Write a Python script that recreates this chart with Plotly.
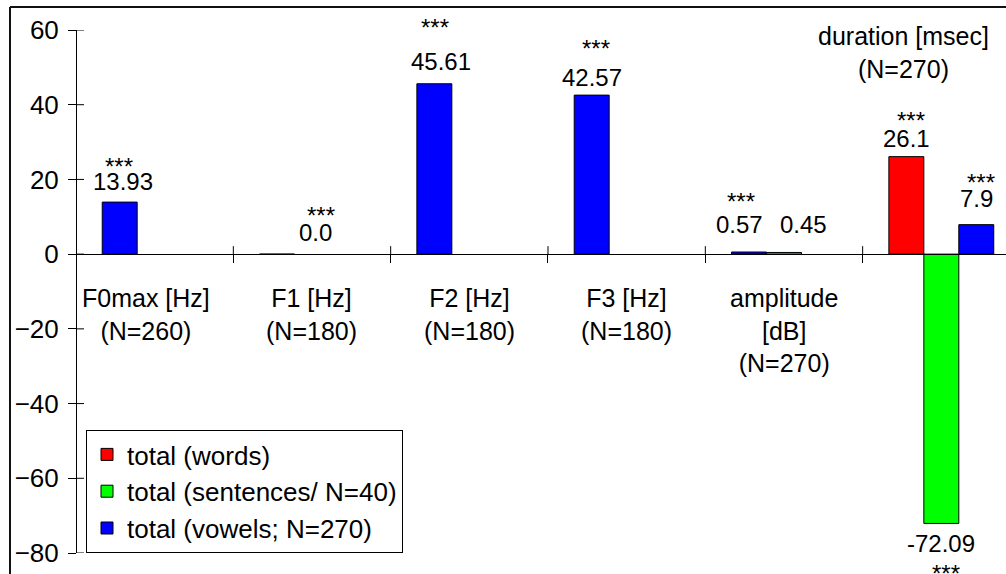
import plotly.graph_objects as go

# ---------------- data ----------------
categories = ["F0max [Hz]<br>(N=260)", "F1 [Hz]<br>(N=180)", "F2 [Hz]<br>(N=180)",
              "F3 [Hz]<br>(N=180)", "amplitude<br>[dB]<br>(N=270)", "duration [msec]<br>(N=270)"]
words = [None, None, None, None, None, 26.1]
sentences = [None, None, None, None, 0.45, -72.09]
vowels = [13.93, 0.0, 45.61, 42.57, 0.57, 7.9]
stars_words = [None, None, None, None, None, "***"]
stars_sentences = [None, None, None, None, None, "***"]
stars_vowels = ["***", "***", "***", "***", "***", "***"]
y_ticks = [-80, -60, -40, -20, 0, 20, 40, 60]

# ---------------- style / layout geometry ----------------
FONT = "Liberation Sans, Arial, sans-serif"
W, H = 1006, 574
ML, MT = 6, 3                       # paper origin (frame drawn inside it)
FRAME_X, FRAME_Y = 10, 7            # outer chart frame (left / top edges) in pixels
PL, PR, PT, PB = 76, 1006, 30, 553  # plot area in pixels (right side runs off the image)
GROUP_PX = 157.33
BARGAP = 1 / 3
SLOT = (1 - BARGAP) / 3
slot_offset = {"a": -SLOT, "b": 0.0, "c": SLOT}
# label pixel offsets: (value dx, value dy, stars dx, stars dy), keyed by (series, index)
label_style = {
    ("v", 0): (3, 21, -1, 40),
    ("v", 1): (38, 22, 44, 43),
    ("v", 2): (7, 22, 1, 60),
    ("v", 3): (0, 18, 4, 51),
    ("v", 4): (-10, 28, -8, 55),
    ("s", 4): (20, 28, 0, 0),
    ("w", 5): (0, 18, 5, 40),
    ("s", 5): (0, -20, 5, -46),
    ("v", 5): (0, 26, 5, 46),
}

pw, ph = W - ML, H - MT


def px_x(p):
    return (p - ML) / pw


def px_y(p):
    return (H - p) / ph


n = len(categories)
idx = list(range(n))
vowels_a = [v if words[i] is None else None for i, v in enumerate(vowels)]
vowels_c = [v if words[i] is not None else None for i, v in enumerate(vowels)]

fig = go.Figure()
line = dict(color="black", width=1)
fig.add_bar(x=idx, y=words, name="total (words)", marker=dict(color="#FF0000", line=line),
            offsetgroup="a", legendgroup="w")
fig.add_bar(x=idx, y=sentences, name="total (sentences/ N=40)", marker=dict(color="#00FF00", line=line),
            offsetgroup="b", legendgroup="s")
fig.add_bar(x=idx, y=vowels_a, name="total (vowels; N=270)", marker=dict(color="#0000FF", line=line),
            offsetgroup="a", legendgroup="v", showlegend=False)
fig.add_bar(x=idx, y=vowels_c, name="total (vowels; N=270)", marker=dict(color="#0000FF", line=line),
            offsetgroup="c", legendgroup="v")

annotations = []
series = [("w", words, stars_words, "a"), ("s", sentences, stars_sentences, "b"),
          ("v", vowels, stars_vowels, None)]
for key, vals, stars, grp in series:
    for i, v in enumerate(vals):
        if v is None:
            continue
        g = grp if grp else ("c" if words[i] is not None else "a")
        x = i + slot_offset[g]
        vdx, vdy, sdx, sdy = label_style.get((key, i), (0, 20, 0, 40))
        annotations.append(dict(x=x, y=v, text=str(v), showarrow=False, xshift=vdx, yshift=vdy,
                                yanchor="middle", font=dict(size=24, color="black", family=FONT)))
        if stars[i]:
            annotations.append(dict(x=x, y=v, text=stars[i], showarrow=False, xshift=sdx, yshift=sdy - 4,
                                    yanchor="middle", font=dict(size=24, color="black", family=FONT)))

YMIN, YMAX = y_ticks[0], y_ticks[-1]

# category labels
for i, lab in enumerate(categories):
    vals = [s[i] for s in (words, sentences, vowels) if s[i] is not None]
    if min(vals) < 0:
        annotations.append(dict(x=i, y=YMAX, text=lab, showarrow=False, xshift=-38,
                                yshift=10, yanchor="top", font=dict(size=25, color="black", family=FONT)))
    else:
        annotations.append(dict(x=i, y=0, text=lab, showarrow=False, xshift=(-9 if i == 0 else 0),
                                yshift=-28, yanchor="top", font=dict(size=25, color="black", family=FONT)))

xdom = [px_x(PL), 1]
ydom = [px_y(PB), px_y(PT)]
zero_px = PT + (YMAX - 0) / (YMAX - YMIN) * (PB - PT)
xrange = [-0.5, -0.5 + (PR - PL) / GROUP_PX]
bounds = [i - 0.5 for i in range(n + 1)]

fx, fy = px_x(FRAME_X), px_y(FRAME_Y)
shapes = [
    # outer chart frame (left and top edges visible)
    dict(type="line", xref="paper", yref="paper", x0=fx, x1=1, y0=fy, y1=fy,
         line=dict(color="#111111", width=2)),
    dict(type="line", xref="paper", yref="paper", x0=fx, x1=fx, y0=0, y1=fy,
         line=dict(color="#111111", width=2)),
]
# inner halves of the crossing tick marks
for t in y_ticks:
    shapes.append(dict(type="line", xref="paper", yref="y", xsizemode="pixel", xanchor=xdom[0],
                       x0=0, x1=8, y0=t, y1=t, line=dict(color="black", width=1)))
for b in bounds:
    shapes.append(dict(type="line", xref="x", yref="y", ysizemode="pixel", yanchor=0,
                       x0=b, x1=b, y0=0, y1=8, line=dict(color="black", width=1)))

fig.update_layout(
    width=W, height=H,
    margin=dict(l=ML, r=0, t=MT, b=0, autoexpand=False),
    paper_bgcolor="white", plot_bgcolor="white",
    barmode="group", bargap=BARGAP, bargroupgap=0,
    font=dict(family=FONT, size=25, color="black"),
    annotations=annotations,
    shapes=shapes,
    showlegend=True,
    legend=dict(x=px_x(86), y=px_y(PB), xanchor="left", yanchor="bottom", bgcolor="white",
                bordercolor="black", borderwidth=1, font=dict(size=26, family=FONT),
                traceorder="grouped", tracegroupgap=0),
    xaxis=dict(domain=xdom, range=xrange, anchor="free", position=px_y(zero_px), showline=True,
               linecolor="black", linewidth=1, ticks="outside", ticklen=8, tickcolor="black",
               tickmode="array", tickvals=bounds, showticklabels=False, showgrid=False,
               zeroline=False, automargin=False),
    yaxis=dict(domain=ydom, range=[YMIN, YMAX], anchor="free", position=xdom[0], tickmode="array",
               tickvals=y_ticks, showline=True, linecolor="black", linewidth=1, ticks="outside",
               ticklen=8, tickcolor="black", showgrid=False, zeroline=False, automargin=False,
               tickfont=dict(size=26, family=FONT), ticklabelstandoff=4),
)

fig.write_html("out.html")
